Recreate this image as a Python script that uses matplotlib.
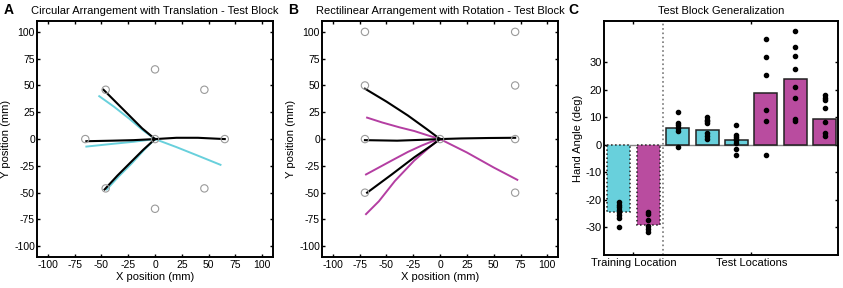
import matplotlib
matplotlib.use("Agg")
import matplotlib.pyplot as plt
import numpy as np

plt.rcParams['font.family'] = ['Liberation Sans', 'DejaVu Sans']
plt.rcParams['axes.unicode_minus'] = False

CYAN = '#68d0dc'
MAGENTA = '#b94c9f'
MAG_LINE = '#b43ea2'
CIRC = '#9a9a9a'

# ---- panel A: circular arrangement ----
targets_a_x = [0, 46, 65, 46, 0, -46, -65, -46, 0]
targets_a_y = [65, 46, 0, -46, -65, -46, 0, 46, 0]

black_a = [
    ([-48, -36, -24, -12, 0], [46, 34, 22, 10, 0]),
    ([-64, -40, -20, 0, 20, 40, 65], [-2, -1.5, -1, 0, 1.2, 1.2, 0]),
    ([-47, -35, -23, -11, 0], [-47, -34, -22, -10, 0]),
]
cyan_a = [
    ([-52, -38, -24, -11, 0], [40, 30, 19, 8, 0]),
    ([-64, -40, -20, 0], [-7, -4.5, -2.5, 0]),
    ([0, 20, 40, 61], [0, -7.5, -15.5, -24]),
    ([-45, -34, -22, -10, 0], [-47, -35, -23, -10, 0]),
]

# ---- panel B: rectilinear arrangement ----
targets_b_x = [-70, 70, -70, 70, -70, 70, -70, 70, 0]
targets_b_y = [100, 100, 50, 50, 0, 0, -50, -50, 0]

black_b = [
    ([-70, -50, -30, -12, 0], [47, 35, 22, 9, 0]),
    ([-70, -40, -20, 0, 20, 45, 70], [-1, -1.5, -0.8, 0, 0.6, 1, 1.2]),
    ([-68, -45, -24, -8, 0], [-50, -33, -17, -6, 0]),
]
magenta_b = [
    ([-68, -54, -38, -24, -10, 0], [20, 15.5, 11, 7.5, 3, 0]),
    ([-69, -45, -30, -17, -7, 0], [-33, -20, -12, -6, -2, 0]),
    ([-69, -57, -42, -24, -8, 0], [-70, -58, -39, -20, -6, 0]),
    ([0, 25, 50, 72], [0, -12.5, -26.5, -38]),
]

# ---- panel C: hand angle bars ----
bar_pos = [1, 2, 3, 4, 5, 6, 7, 8]
bar_vals = [-24.5, -29.2, 6.0, 5.5, 1.8, 19.0, 24.0, 9.5]
bar_cols = [CYAN, MAGENTA, CYAN, CYAN, CYAN, MAGENTA, MAGENTA, MAGENTA]
subj_pts = [
    [-20.8, -21.8, -22.6, -23.5, -24.5, -25.5, -26.5, -29.7],
    [-24.4, -25.2, -27.3, -29.4, -30.6, -31.8],
    [12.1, 8.0, 7.2, 6.1, 5.1, -0.8],
    [10.0, 9.2, 8.5, 7.8, 4.2, 3.2, 2.3],
    [7.3, 3.7, 3.0, 2.3, 1.7, 0.8, -1.5, -3.7],
    [38.6, 32.0, 25.4, 12.6, 8.8, -3.8],
    [41.4, 35.6, 32.3, 27.6, 21.1, 16.9, 9.4, 8.7],
    [18.0, 17.0, 16.3, 13.4, 8.4, 4.2, 3.2],
]
group_ticks = [1.5, 5.5]
group_labels = ['Training Location', 'Test Locations']

fig = plt.figure(figsize=(8.43, 2.88), dpi=100)


def style_box(ax):
    for s in ax.spines.values():
        s.set_linewidth(1.4)
    ax.tick_params(direction='in', top=True, right=True, length=2.5, width=1,
                   labelsize=7.5, pad=2.5)
    ax.tick_params(axis='y', pad=1.5)


def traj_panel(ax, tx, ty, black, colored, col, title):
    for x, y in colored:
        ax.plot(x, y, color=col, lw=1.4, zorder=2)
    for x, y in black:
        ax.plot(x, y, color='black', lw=1.5, zorder=3)
    ax.scatter(tx, ty, s=28, facecolors='none', edgecolors=CIRC, linewidths=0.8, zorder=4)
    ax.set_xlim(-110, 110)
    ax.set_ylim(-110, 110)
    ticks = [-100, -75, -50, -25, 0, 25, 50, 75, 100]
    ax.set_xticks(ticks)
    ax.set_yticks(ticks)
    ax.set_xlabel('X position (mm)', fontsize=8, labelpad=1)
    ax.set_ylabel('Y position (mm)', fontsize=8, labelpad=2)
    ax.set_title(title, fontsize=8, pad=5)
    style_box(ax)


axA = fig.add_axes([0.0439, 0.1076, 0.280, 0.819])
traj_panel(axA, targets_a_x, targets_a_y, black_a, cyan_a, CYAN,
           'Circular Arrangement with Translation - Test Block')

axB = fig.add_axes([0.382, 0.1076, 0.280, 0.819])
traj_panel(axB, targets_b_x, targets_b_y, black_b, magenta_b, MAG_LINE,
           'Rectilinear Arrangement with Rotation - Test Block')

axC = fig.add_axes([0.7165, 0.1146, 0.2776, 0.8125])
axC.axhline(0, color='#888888', lw=1, zorder=1)
for i, (p, v, c) in enumerate(zip(bar_pos, bar_vals, bar_cols)):
    ls = ':' if i < 2 else '-'
    axC.bar(p, v, width=0.78, color=c, edgecolor='#222222', linewidth=1.1,
            linestyle=ls, zorder=2)
    axC.scatter([p] * len(subj_pts[i]), subj_pts[i], s=9, color='black', zorder=3)
axC.axvline(2.5, color='#777777', lw=1.2, linestyle=':', zorder=1)
axC.set_xlim(0.5, 8.45)
axC.set_ylim(-40, 45)
axC.set_yticks([-30, -20, -10, 0, 10, 20, 30])
axC.set_xticks(group_ticks)
axC.set_xticklabels(group_labels)
axC.set_ylabel('Hand Angle (deg)', fontsize=8, labelpad=2)
axC.set_title('Test Block Generalization', fontsize=8, pad=5)
style_box(axC)
axC.tick_params(axis='x', labelsize=8)
axC.tick_params(axis='y', labelsize=8)

for lbl, xf in zip(['A', 'B', 'C'], [0.004, 0.342, 0.674]):
    fig.text(xf, 0.965, lbl, fontsize=10, fontweight='bold', va='center')

fig.savefig('out.png', dpi=100)
